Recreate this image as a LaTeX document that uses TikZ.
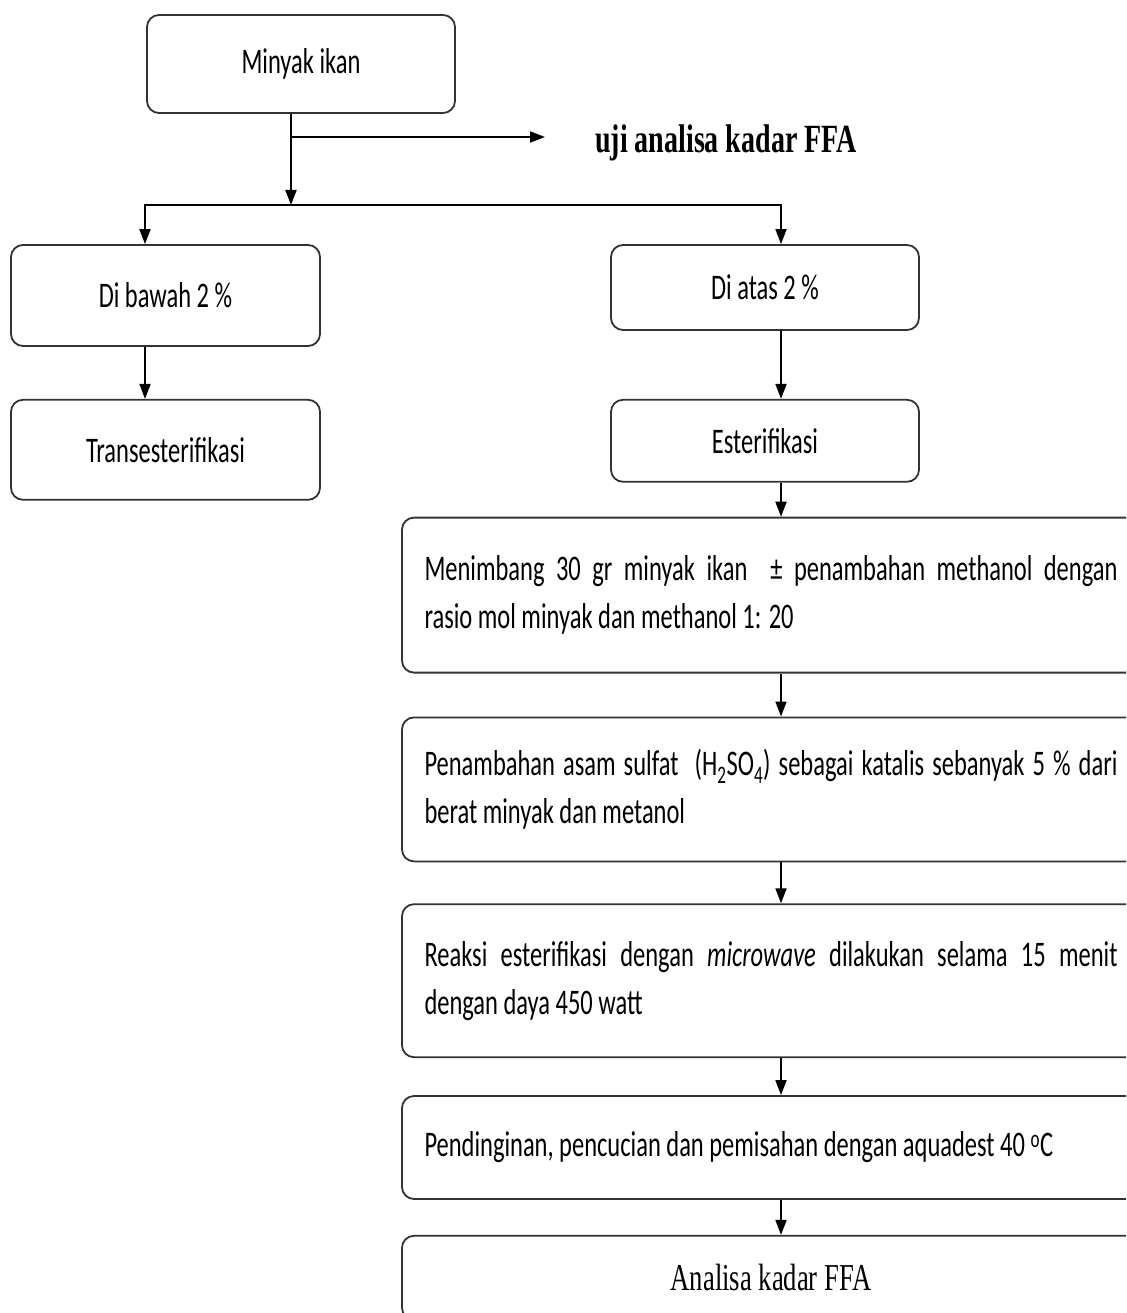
\documentclass[tikz,border=0pt]{standalone}
\usepackage{fontspec}
\setmainfont[FakeStretch=0.68]{Carlito}
\newfontfamily\timesfont[FakeStretch=0.7]{Liberation Serif}
\usetikzlibrary{positioning,arrows.meta}

\newcommand{\boxtext}[1]{\parbox{693pt}{\raggedright #1}}

\tikzset{
  stepbox/.style={draw=black!80, line width=1.8pt, rounded corners=12pt, fill=white,
    font=\fontsize{36}{48}\selectfont, inner sep=0pt},
  widebox/.style={stepbox, minimum width=738pt, inner xsep=20pt},
  link/.style={line width=1.8pt}
}

\begin{document}
\begin{tikzpicture}[>={Triangle[length=15pt,width=11pt]}]
			\useasboundingbox (0pt,0pt) rectangle (1126pt,-1313pt);
			\clip (0pt,0pt) rectangle (1126pt,-1313pt);

			\node [stepbox, minimum width=308pt, minimum height=98pt] (minyak) at (301pt,-64pt) {Minyak ikan};
			\node [anchor=west, inner sep=0pt, font=\timesfont\bfseries\fontsize{40}{48}\selectfont] (uji) at (595pt,-143pt) {uji analisa kadar FFA};

			\node [stepbox, minimum width=309pt, minimum height=101pt] (bawah) at (165.5pt,-295.5pt) {Di bawah 2 \%};
			\node [stepbox, minimum width=308pt, minimum height=85pt] (atas) at (765pt,-287.5pt) {Di atas 2 \%};
			\node [stepbox, minimum width=309pt, minimum height=100pt, below=52pt of bawah] (trans) {Transesterifikasi};
			\node [stepbox, minimum width=308pt, minimum height=82pt, below=68pt of atas] (ester) {Esterifikasi};

			\node [widebox, minimum height=155pt, below=34pt of ester, xshift=6pt] (menimbang)
				{\boxtext{\makebox[\linewidth][s]{Menimbang 30 gr minyak ikan\ \ ± penambahan methanol dengan}\\rasio mol minyak dan methanol 1: 20}};
			\node [widebox, minimum height=144pt, below=43pt of menimbang] (katalis)
				{\boxtext{\makebox[\linewidth][s]{Penambahan asam sulfat\ \ (H\textsubscript{2}SO\textsubscript{4}) sebagai katalis sebanyak 5 \% dari}\\berat minyak dan metanol}};
			\node [widebox, minimum height=153pt, below=41pt of katalis] (reaksi)
				{\boxtext{\makebox[\linewidth][s]{Reaksi esterifikasi dengan \emph{microwave} dilakukan selama 15 menit}\\dengan daya 450 watt}};
			\node [widebox, minimum height=103pt, below=37pt of reaksi] (dingin)
				{\boxtext{Pendinginan, pencucian dan pemisahan dengan aquadest 40 \textsuperscript{o}C}};
			\node [stepbox, minimum width=738pt, minimum height=84pt, below=35pt of dingin,
				font=\timesfont\fontsize{38}{46}\selectfont] (analisa) {Analisa kadar FFA};

			% spines of the arrows
			\coordinate (tspine) at (291pt,0pt);
			\coordinate (lspine) at (145pt,0pt);
			\coordinate (spine) at (781pt,0pt);
			\coordinate (tap) at (291pt,-137pt);
			\coordinate (split) at (291pt,-205pt);
			\coordinate (ujiend) at (545pt,-137pt);

			\draw [link, ->] (minyak.south -| tspine) -- (split);
			\draw [link, ->] (tap) -- (ujiend);
			\draw [link, ->] (split) -| (bawah.north -| lspine);
			\draw [link, ->] (split) -| (atas.north -| spine);
			\draw [link, ->] (bawah.south -| lspine) -- (trans.north -| lspine);
			\foreach \a/\b in {atas/ester, ester/menimbang, menimbang/katalis, katalis/reaksi, reaksi/dingin, dingin/analisa}
				\draw [link, ->] (\a.south -| spine) -- (\b.north -| spine);
		\end{tikzpicture}
\end{document}
